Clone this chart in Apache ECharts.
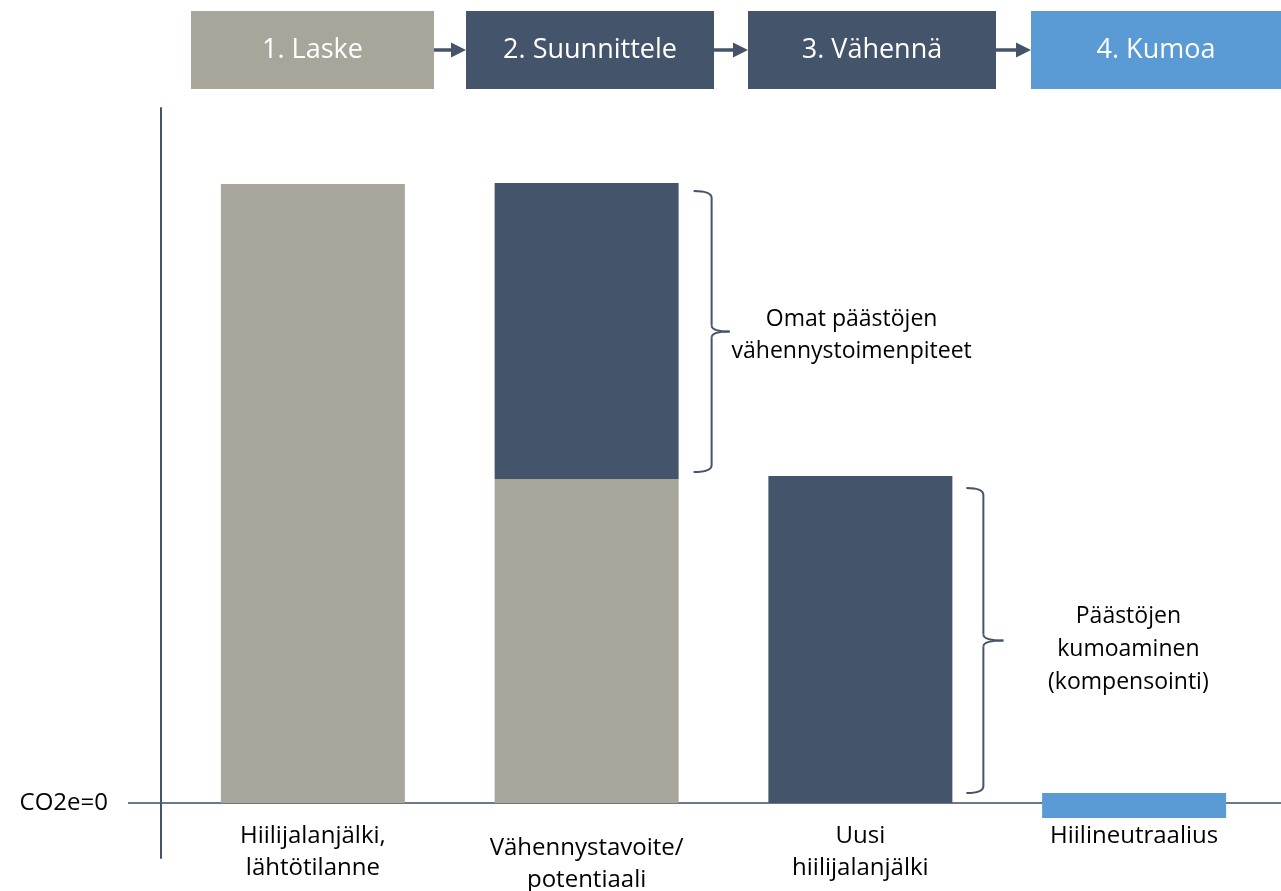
<!DOCTYPE html>
<html><head><meta charset="utf-8">
<script src="https://cdn.jsdelivr.net/npm/echarts@6/dist/echarts.min.js"></script>
<style>html,body{margin:0;padding:0;background:#fff}#c{width:1281px;height:891px}</style>
</head><body><div id="c"></div>
<script>
const categories = ['Hiilijalanjälki,\nlähtötilanne', 'Vähennystavoite/\npotentiaali', 'Uusi\nhiilijalanjälki', 'Hiilineutraalius'];
const baseValues = [123.8, 64.8, null, null];
const reductionValues = [null, 59.2, 65.4, null];
const neutralAbove = [null, null, null, 2];
const neutralBelow = [null, null, null, -3];
const steps = ['1. Laske', '2. Suunnittele', '3. Vähennä', '4. Kumoa'];
const zeroLabel = 'CO2e=0';
const braceNotes = ['Omat päästöjen\nvähennystoimenpiteet', 'Päästöjen\nkumoaminen\n(kompensointi)'];

const GRAY = '#a8a69a', DARK = '#44546a', BLUE = '#5b9bd5';
const FONT = '"Open Sans", sans-serif';
const Y_MIN = -11, Y_MAX = 139;

const chart = echarts.init(document.getElementById('c'), null, {renderer: 'canvas'});
const option = {
  animation: false,
  backgroundColor: '#fff',
  grid: {left: 176, right: 10, top: 108, bottom: 33, containLabel: false, outerBoundsMode: 'none'},
  xAxis: {
    type: 'category',
    position: 'bottom',
    data: categories.map((c, i) => i === 1 ? {value: c, textStyle: {padding: [12, 0, 0, 0]}} : c),
    axisLine: {show: false, onZero: false},
    axisTick: {show: false},
    axisLabel: {color: '#000', fontFamily: FONT, fontSize: 24, lineHeight: 32, margin: 17, interval: 0}
  },
  yAxis: {
    type: 'value', min: Y_MIN, max: Y_MAX, interval: 11, offset: 15,
    splitLine: {show: false},
    axisTick: {show: false},
    axisLine: {show: true, lineStyle: {color: DARK, width: 2}},
    axisLabel: {
      formatter: v => v === 0 ? zeroLabel : '',
      color: '#000', fontFamily: FONT, fontSize: 24, margin: 53
    }
  },
  series: [
    {name: 'Lähtötaso', type: 'bar', stack: 'a', barWidth: 184, data: baseValues, itemStyle: {color: GRAY}},
    {name: 'Vähennys', type: 'bar', stack: 'a', barWidth: 184, data: reductionValues, itemStyle: {color: DARK}},
    {name: 'Neutraali+', type: 'bar', stack: 'a', barWidth: 184, data: neutralAbove, itemStyle: {color: BLUE}},
    {name: 'Neutraali-', type: 'bar', stack: 'a', barWidth: 184, data: neutralBelow, itemStyle: {color: BLUE}}
  ]
};
chart.setOption(option);

const px = i => chart.convertToPixel({xAxisIndex: 0}, i);
const py = v => chart.convertToPixel({yAxisIndex: 0}, v);
const half = 92;
const y0 = py(0);
// move category labels up to the zero line
chart.setOption({xAxis: {offset: -(py(Y_MIN) - y0)}});

function brace(xl, xv, xt, top, bot) {
  const r = 7, rt = 6;
  const mid = (top + bot) / 2;
  const st = {stroke: DARK, fill: null, lineWidth: 2};
  return [
    {type: 'bezierCurve', shape: {x1: xl, y1: top, cpx1: xv, cpy1: top, x2: xv, y2: top + r}, style: st},
    {type: 'line', shape: {x1: xv, y1: top + r, x2: xv, y2: mid - rt}, style: st},
    {type: 'bezierCurve', shape: {x1: xv, y1: mid - rt, cpx1: xv, cpy1: mid, x2: xt, y2: mid}, style: st},
    {type: 'bezierCurve', shape: {x1: xt, y1: mid, cpx1: xv, cpy1: mid, x2: xv, y2: mid + rt}, style: st},
    {type: 'line', shape: {x1: xv, y1: mid + rt, x2: xv, y2: bot - r}, style: st},
    {type: 'bezierCurve', shape: {x1: xv, y1: bot - r, cpx1: xv, cpy1: bot, x2: xl, y2: bot}, style: st}
  ];
}

const g = [];
// step boxes
const boxX = [191, 466, 748, 1031];
const boxW = [243, 248, 248, 250];
const boxColors = [GRAY, DARK, DARK, BLUE];
const boxTop = 11, boxH = 78;
steps.forEach((s, i) => {
  g.push({type: 'rect', shape: {x: boxX[i], y: boxTop, width: boxW[i], height: boxH}, style: {fill: boxColors[i]}});
  g.push({type: 'text', x: boxX[i] + boxW[i] / 2, y: boxTop + boxH / 2,
    style: {text: s, fill: '#fff', fontFamily: FONT, fontSize: 27, align: 'center', verticalAlign: 'middle'}});
  if (i < steps.length - 1) {
    const x0 = boxX[i] + boxW[i], x1 = boxX[i + 1];
    const yy = boxTop + boxH / 2;
    g.push({type: 'line', shape: {x1: x0, y1: yy, x2: x1 - 12, y2: yy}, style: {stroke: DARK, lineWidth: 3.5}});
    g.push({type: 'polygon', shape: {points: [[x1 - 15, yy - 7.5], [x1, yy], [x1 - 15, yy + 7.5]]}, style: {fill: DARK}});
  }
});
// zero line
g.push({type: 'line', shape: {x1: 128, y1: y0, x2: 1281, y2: y0}, style: {stroke: '#6b7889', lineWidth: 2}});
// brace 1 around reduction of bar 2
{
  const xl = px(1) + half + 15, xv = xl + 18, xt = xv + 18;
  const top = py(baseValues[1] + reductionValues[1]) + 8, bot = py(baseValues[1]) - 7;
  g.push(...brace(xl, xv, xt, top, bot));
  g.push({type: 'text', x: xv + 140, y: (top + bot) / 2 + 4,
    style: {text: braceNotes[0], fill: '#000', fontFamily: FONT, fontSize: 23, lineHeight: 32, align: 'center', verticalAlign: 'middle'}});
}
// brace 2 around bar 3
{
  const xl = px(2) + half + 14, xv = xl + 17, xt = xv + 20;
  const top = py(reductionValues[2]) + 12, bot = py(0) - 10;
  g.push(...brace(xl, xv, xt, top, bot));
  g.push({type: 'text', x: xv + 145, y: (top + bot) / 2 + 9,
    style: {text: braceNotes[1], fill: '#000', fontFamily: FONT, fontSize: 23, lineHeight: 33, align: 'center', verticalAlign: 'middle'}});
}
chart.setOption({graphic: {elements: g}});
</script>
</body></html>
